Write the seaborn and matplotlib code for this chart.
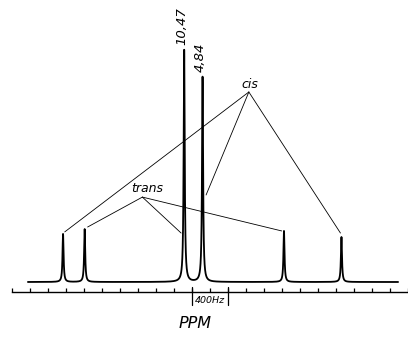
import numpy as np
import pandas as pd
import matplotlib
matplotlib.use("Agg")
import matplotlib.pyplot as plt
import seaborn as sns

# ---- data ----
peak_hz = [570, 810, 1915, 2119, 3023, 3661]          # peak positions (Hz scale)
peak_int = [20.7, 22.8, 100.0, 88.4, 22.0, 19.4]      # relative intensities
peak_width = 7.0                                      # Lorentzian HWHM (Hz)
span_hz = [180, 4290]                                 # recorded range

scale_ticks = list(range(0, 4401, 200))
bracket_hz = [2000, 2400]
bracket_label = "400Hz"

value_labels = ["10,47", "4,84"]
value_label_pos = [(1892, 110.3), (2097, 97.0)]

group_names = ["cis", "trans"]
group_label_pos = [(2644, 85.3), (1500, 40.5)]
group_hub = [(2633, 81.9), (1451, 36.6)]
group_targets = [
    [(589, 21.6), (2158, 37.5), (3650, 21.1)],
    [(843, 23.7), (1881, 21.1), (2998, 22.0)],
]
axis_label = "PPM"

# ---- spectrum ----
x = np.arange(span_hz[0], span_hz[1] + 0.25, 0.25)
y = np.zeros_like(x)
for c, h in zip(peak_hz, peak_int):
    y += h * peak_width**2 / ((x - c) ** 2 + peak_width**2)
df = pd.DataFrame({"Hz": x, "I": y})

sns.set_style("white")
plt.rcParams["font.family"] = ["DejaVu Sans"]
plt.rcParams["text.color"] = "black"

fig = plt.figure(figsize=(4.08, 3.39), dpi=100)
ax = fig.add_axes([11.7 / 408, 47 / 339, 1 - 11.7 / 408, 292 / 339])
sns.lineplot(data=df, x="Hz", y="I", ax=ax, color="black", lw=1.3, sort=False)

ax.set_xlim(0, 4379)
ax.set_ylim(-4.31, 121.55)
for s in ["left", "top", "right"]:
    ax.spines[s].set_visible(False)
ax.spines["bottom"].set_color("black")
ax.spines["bottom"].set_linewidth(1.0)
ax.set_xticks(scale_ticks)
ax.tick_params(axis="x", direction="in", length=3, width=0.9, color="black",
               labelbottom=False, bottom=True)
ax.set_yticks([])
ax.set_xlabel("")
ax.set_ylabel("")

# 400 Hz bracket
for bx in bracket_hz:
    ax.plot([bx, bx], [-9.9, -2.0], color="black", lw=0.9, clip_on=False)
ax.text(sum(bracket_hz) / 2, -7.9, bracket_label, ha="center", va="center",
        fontsize=6.8, style="italic", color="black")

# value labels
for t, (lx, ly) in zip(value_labels, value_label_pos):
    ax.text(lx, ly, t, rotation=90, ha="center", va="center", fontsize=9.5,
            style="italic", color="black")

# group labels and pointers
for name, (lx, ly), hub, targets in zip(group_names, group_label_pos,
                                         group_hub, group_targets):
    ax.text(lx, ly, name, ha="center", va="center", fontsize=9, style="italic",
            color="black")
    for tx, ty in targets:
        ax.annotate("", xy=(tx, ty), xytext=hub,
                    arrowprops=dict(arrowstyle="-", color="black", lw=0.6,
                                    shrinkA=0, shrinkB=0))

ax.text(2036, -17.7, axis_label, ha="center", va="center", fontsize=11.5,
        style="italic", color="black")

fig.savefig("out.png", dpi=100)
